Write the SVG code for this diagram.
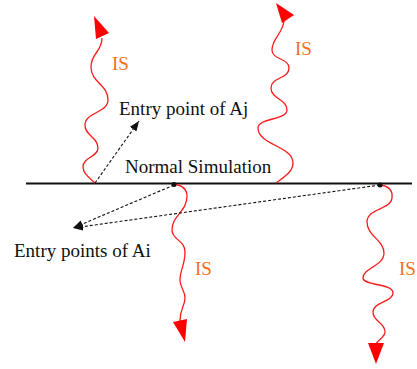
<svg xmlns="http://www.w3.org/2000/svg" width="417" height="369" viewBox="0 0 417 369">
<style>
.lbl{font-family:"Liberation Serif","Times New Roman",serif;font-size:19px;fill:#111}
.is{font-family:"Liberation Serif","Times New Roman",serif;font-size:19px;fill:#F37021}
.wave{fill:none;stroke:#FF1A1A;stroke-width:1.3}
.head{fill:#FF0000;stroke:none}
.dash{fill:none;stroke:#111;stroke-width:1.1;stroke-dasharray:3,2}
</style>
<defs>
<marker id="ah" markerUnits="userSpaceOnUse" markerWidth="10" markerHeight="8" refX="10" refY="4" orient="auto">
<path d="M0,0 L10,4 L0,8 z" fill="#111"/>
</marker>
</defs>
<rect width="417" height="369" fill="#fff"/>
<g id="timeline">
<line x1="26" y1="183.5" x2="412" y2="183.5" stroke="#111" stroke-width="2"/>
<text class="lbl" x="125" y="173">Normal Simulation</text>
</g>
<g id="is1">
<path class="wave" d="M95,183 C90,178 83,174 83,167 C83,157 98,157 98,148 C98,137 85,136 85,125 C85,112 108,113 108,100 C108,84 91,83 91,67 C91,53 102,52 102,38"/>
<polygon class="head" points="94,16 109,33 96,39"/>
<text class="is" x="112" y="70">IS</text>
</g>
<g id="is2">
<path class="wave" d="M276,183 C284,177 293,172 293,163 C293,146 258,145 258,128 C258,118 287,120 287,110 C287,99 271,99 271,88 C271,77 289,79 289,68 C289,58 272,60 272,50 C272,38 282,35 284,21"/>
<polygon class="head" points="276,3 294,15 282,23"/>
<text class="is" x="295" y="55">IS</text>
</g>
<g id="is3">
<path class="wave" d="M174,184 C180,185 187,188 187,196 C187,212 172,215 172,230 C172,240 185,240 185,252 C185,265 180,270 180,280 C180,288 185,290 185,298 C185,306 180,308 180,321"/>
<polygon class="head" points="173,322 187,319 185,342"/>
<text class="is" x="195" y="275">IS</text>
</g>
<g id="is4">
<path class="wave" d="M380,185 C388,186 393,190 392,198 C391,210 367,208 367,222 C367,236 384,240 384,253 C384,266 363,268 363,278 C363,286 393,283 393,293 C393,302 373,302 373,312 C373,322 385,322 385,332 C385,337 378,340 376,344"/>
<polygon class="head" points="368,343 384,343 376,364"/>
<text class="is" x="399" y="275">IS</text>
</g>
<g id="entry-aj">
<text class="lbl" x="119" y="115">Entry point of Aj</text>
</g>
<g id="entry-ai">
<circle cx="174" cy="184.5" r="2.5" fill="#111"/>
<circle cx="380" cy="185" r="2.5" fill="#111"/>
<text class="lbl" x="14" y="257">Entry points of Ai</text>
</g>
<g id="connectors">
<line class="dash" x1="95" y1="183" x2="139" y2="121" marker-end="url(#ah)"/>
<line class="dash" x1="174" y1="185" x2="73" y2="228" marker-end="url(#ah)"/>
<line class="dash" x1="380" y1="185" x2="73" y2="228" marker-end="url(#ah)"/>
</g>
</svg>
